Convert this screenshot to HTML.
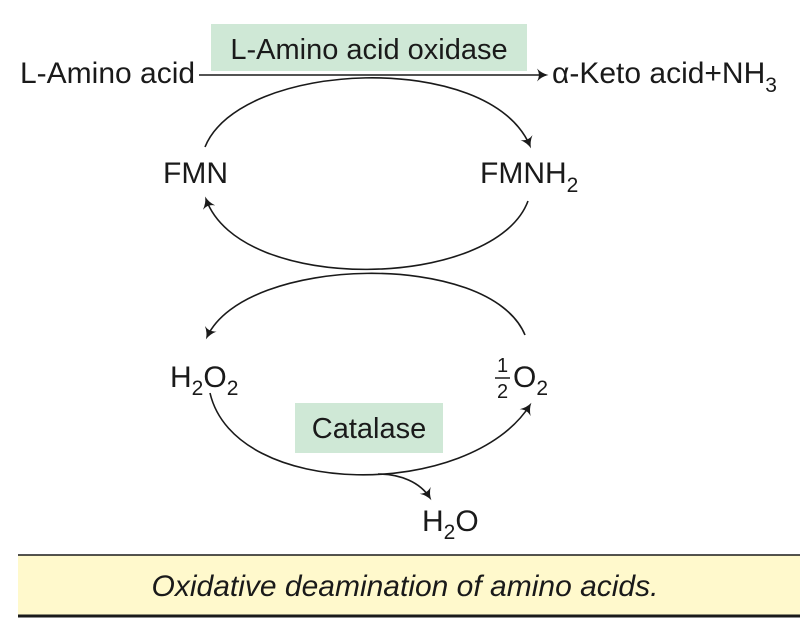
<!DOCTYPE html>
<html><head><style>
html,body{margin:0;padding:0;background:#fff;}
svg{display:block;}
text{font-family:"Liberation Sans",sans-serif;fill:#1a1a1a;}
</style></head><body>
<svg width="800" height="629" viewBox="0 0 800 629" xmlns="http://www.w3.org/2000/svg">
<defs>
<marker id="ah" viewBox="0 0 10 10" refX="8" refY="5" markerWidth="13" markerHeight="13" orient="auto" markerUnits="userSpaceOnUse">
<path d="M1,0 Q5,4 10,5 Q5,6 1,10 Q4,5 1,0Z" fill="#1a1a1a"/>
</marker>
</defs>
<rect x="211" y="24" width="316" height="47" fill="#cfe8d6"/>
<text x="369" y="59" font-size="29" text-anchor="middle">L-Amino acid oxidase</text>
<text x="20" y="83" font-size="30">L-Amino acid</text>
<line x1="199" y1="75" x2="546" y2="75" stroke="#1a1a1a" stroke-width="1.6" marker-end="url(#ah)"/>
<text x="552" y="83" font-size="30">α-Keto acid+NH<tspan font-size="21" dy="9">3</tspan></text>

<path d="M205,147 C240,60 490,50 530,146" fill="none" stroke="#1a1a1a" stroke-width="1.6" marker-end="url(#ah)"/>
<path d="M528,201 C495,290 240,295 206,199" fill="none" stroke="#1a1a1a" stroke-width="1.6" marker-end="url(#ah)"/>
<path d="M525,335 C490,250 245,255 207,337" fill="none" stroke="#1a1a1a" stroke-width="1.6" marker-end="url(#ah)"/>
<path d="M210,393 C235,500 470,500 530,405" fill="none" stroke="#1a1a1a" stroke-width="1.6" marker-end="url(#ah)"/>
<path d="M378,474 C400,474 420,482 430,498" fill="none" stroke="#1a1a1a" stroke-width="1.6" marker-end="url(#ah)"/>

<text x="163" y="183" font-size="30">FMN</text>
<text x="480" y="183" font-size="30">FMNH<tspan font-size="21" dy="9">2</tspan></text>
<text x="170" y="387" font-size="30">H<tspan font-size="21" dy="8">2</tspan><tspan dy="-8">O</tspan><tspan font-size="21" dy="8">2</tspan></text>
<text x="497" y="372" font-size="20">1</text>
<line x1="495" y1="378" x2="510" y2="378" stroke="#1a1a1a" stroke-width="1.5"/>
<text x="497" y="398" font-size="20">2</text>
<text x="513" y="387" font-size="30">O<tspan font-size="21" dy="8">2</tspan></text>

<rect x="295" y="403" width="148" height="50" fill="#cfe8d6"/>
<text x="369" y="438" font-size="29" text-anchor="middle">Catalase</text>
<text x="422" y="531" font-size="30">H<tspan font-size="21" dy="8">2</tspan><tspan dy="-8">O</tspan></text>

<rect x="18" y="555" width="782" height="61" fill="#fff9cc"/>
<line x1="18" y1="555" x2="800" y2="555" stroke="#1a1a1a" stroke-width="1.5"/>
<line x1="18" y1="616" x2="800" y2="616" stroke="#1a1a1a" stroke-width="3"/>
<text x="405" y="596" font-size="30" font-style="italic" text-anchor="middle">Oxidative deamination of amino acids.</text>
</svg>
</body></html>
